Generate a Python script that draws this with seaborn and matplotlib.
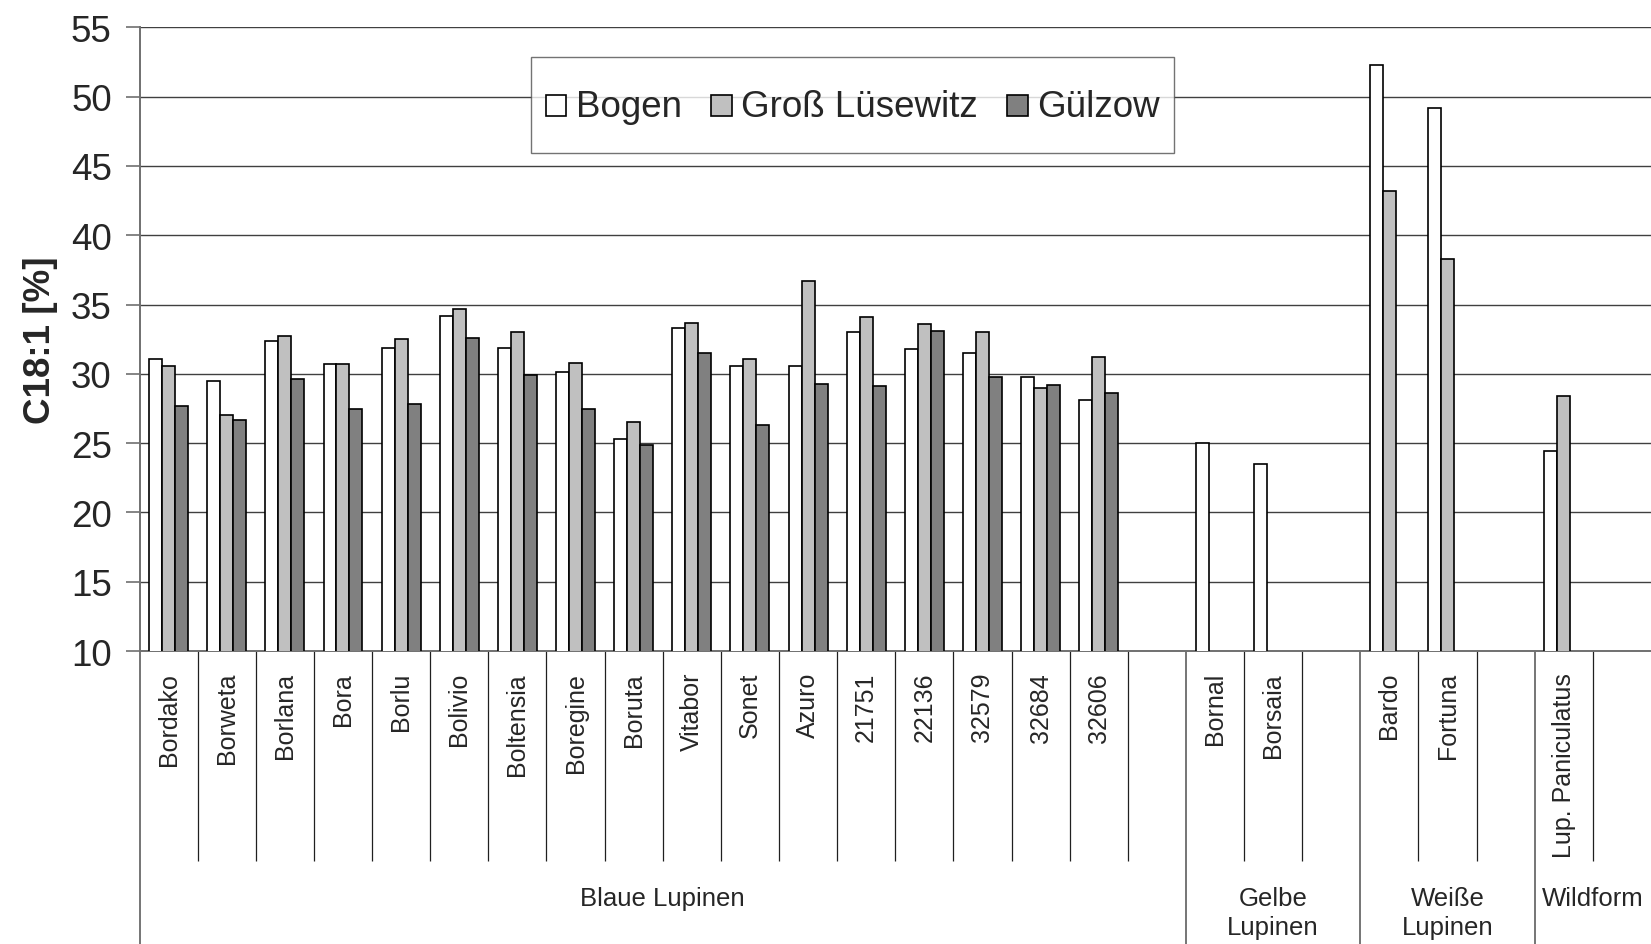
import numpy as np
import pandas as pd
import matplotlib
matplotlib.use("Agg")
import matplotlib.pyplot as plt
import matplotlib.patches as mpatches
from matplotlib.legend_handler import HandlerPatch
import seaborn as sns

sns.set_style("white")
plt.rcParams["font.family"] = ["Liberation Sans", "DejaVu Sans"]

# slots on the x axis (blank slots are empty spacer positions)
sorten = [
    "Bordako", "Borweta", "Borlana", "Bora", "Borlu", "Bolivio", "Boltensia",
    "Boregine", "Boruta", "Vitabor", "Sonet", "Azuro", "21751", "22136",
    "32579", "32684", "32606", " ",
    "Bornal", "Borsaia", "  ",
    "Bardo", "Fortuna", "   ",
    "Lup. Paniculatus", "    ",
]
bogen = [31.1, 29.5, 32.4, 30.7, 31.9, 34.2, 31.9, 30.1, 25.3, 33.3, 30.6,
         30.6, 33.0, 31.8, 31.5, 29.8, 28.1, None,
         25.0, 23.5, None,
         52.3, 49.2, None,
         24.4, None]
gross_luesewitz = [30.6, 27.0, 32.7, 30.7, 32.5, 34.7, 33.0, 30.8, 26.5, 33.7,
                   31.1, 36.7, 34.1, 33.6, 33.0, 29.0, 31.2, None,
                   None, None, None,
                   43.2, 38.3, None,
                   28.4, None]
guelzow = [27.7, 26.7, 29.6, 27.5, 27.8, 32.6, 29.9, 27.5, 24.9, 31.5, 26.3,
           29.3, 29.1, 33.1, 29.8, 29.2, 28.6, None,
           None, None, None,
           None, None, None,
           None, None]
standorte = ["Bogen", "Groß Lüsewitz", "Gülzow"]
farben = ["#FFFFFF", "#C0C0C0", "#808080"]

# groups: label and number of slots
gruppen = ["Blaue Lupinen", "Gelbe\nLupinen", "Weiße\nLupinen", "Wildform"]
gruppen_slots = [18, 3, 3, 2]

rows = []
for werte, ort in zip([bogen, gross_luesewitz, guelzow], standorte):
    for s, v in zip(sorten, werte):
        rows.append({"Sorte": s, "Ort": ort,
                     "C18:1": np.nan if v is None else v})
df = pd.DataFrame(rows)

fig = plt.figure(figsize=(16.51, 9.45), dpi=100)
ax = fig.add_axes([0.0845, 0.310, 0.9155, 0.660])

sns.barplot(data=df, x="Sorte", y="C18:1", hue="Ort", order=sorten,
            hue_order=standorte, palette=farben, saturation=1, width=0.67,
            edgecolor="black", linewidth=1.2, errorbar=None, ax=ax,
            zorder=3)

ax.set_ylim(10, 55)
ax.set_xlim(-0.5, len(sorten) - 0.5)
ax.set_yticks(np.arange(10, 56, 5))
ax.yaxis.grid(True, color="#404040", linewidth=1.0)
ax.set_axisbelow(True)
ax.tick_params(axis="y", labelsize=26.5, length=10, width=1.2,
               color="#707070", pad=10, left=True)
ax.set_ylabel("C18:1 [%]", fontsize=26.5, fontweight="bold", labelpad=9)
ax.set_xlabel("")

for side in ["top", "right"]:
    ax.spines[side].set_visible(False)
for side in ["left", "bottom"]:
    ax.spines[side].set_color("#707070")
    ax.spines[side].set_linewidth(1.4)

# category labels
ax.set_xticks(range(len(sorten)))
ax.set_xticklabels(sorten, rotation=90, fontsize=18)
ax.tick_params(axis="x", length=0, pad=15)

# separators below the axis
trans = ax.get_xaxis_transform()
grenzen = np.arange(len(sorten)) - 0.5
gruppen_grenzen = np.concatenate([[0], np.cumsum(gruppen_slots)]) - 0.5
kurz = [g for g in grenzen if g not in gruppen_grenzen]
ax.vlines(kurz, -0.337, 0, transform=trans, color="#202020",
          linewidth=0.9, clip_on=False)
ax.vlines(gruppen_grenzen[:-1], -0.48, 0, transform=trans, color="#505050",
          linewidth=1.1, clip_on=False)

# group labels
mitten = gruppen_grenzen[:-1] + np.array(gruppen_slots) / 2
for name, m in zip(gruppen, mitten):
    ax.text(m, -0.376, name, transform=trans, ha="center", va="top",
            fontsize=18.5, linespacing=1.3)


def square_patch(legend, orig_handle, xdescent, ydescent, width, height,
                 fontsize):
    # square handle, sitting on the text baseline
    side = width
    y = 0.3 * fontsize - side / 2
    return mpatches.Rectangle((-xdescent, y), side, side)


handles, labels = ax.get_legend_handles_labels()
leg = ax.legend(handles, labels, loc="center",
                bbox_to_anchor=(0.5164, 0.8878),
                bbox_transform=fig.transFigure, ncol=3, fontsize=26.5,
                frameon=True, fancybox=False, edgecolor="#505050",
                handlelength=0.56, handleheight=2.41, handletextpad=0.25,
                columnspacing=0.8, borderpad=0.4, borderaxespad=0,
                handler_map={mpatches.Rectangle:
                             HandlerPatch(patch_func=square_patch)})
leg.get_frame().set_linewidth(1.0)

fig.savefig("out.png", dpi=100)
